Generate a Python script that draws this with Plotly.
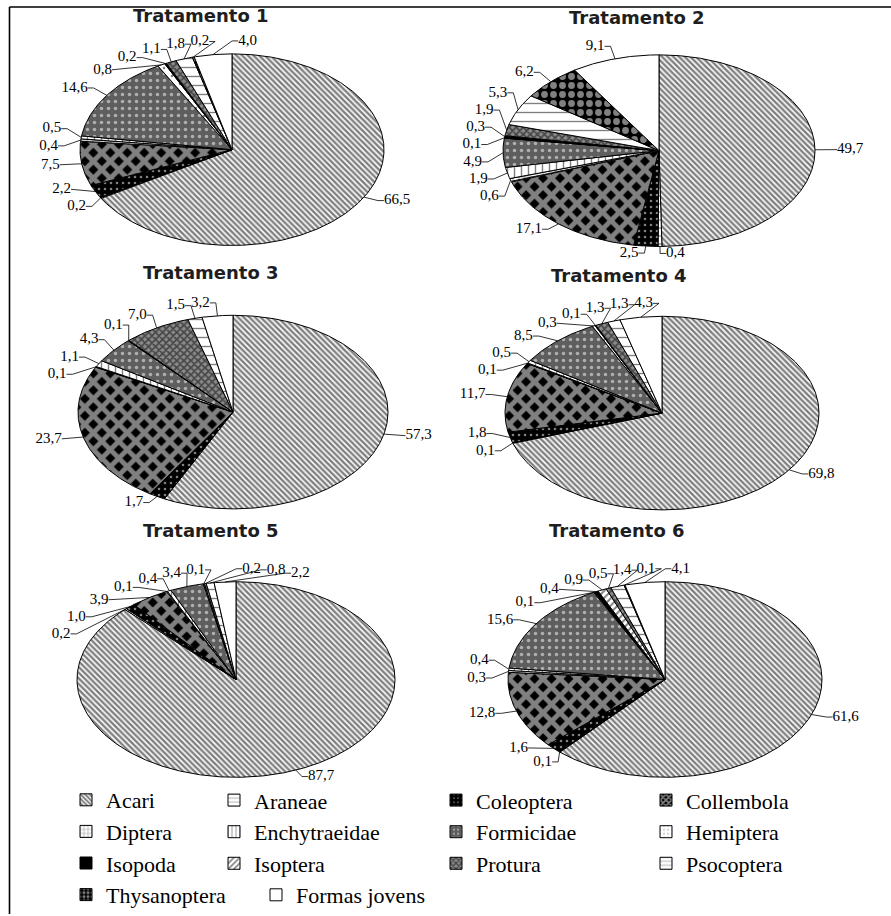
import numpy as np
import plotly.graph_objects as go

# ---------------------------------------------------------------- data
categories = ["Acari", "Araneae", "Coleoptera", "Collembola", "Diptera",
              "Enchytraeidae", "Formicidae", "Hemiptera", "Isopoda", "Isoptera",
              "Protura", "Psocoptera", "Thysanoptera", "Formas jovens"]

treatments = ["Tratamento 1", "Tratamento 2", "Tratamento 3",
              "Tratamento 4", "Tratamento 5", "Tratamento 6"]

# relative abundance (%) per treatment, in category order
trat1 = [66.5, 0.2, 2.2, 7.5, 0.4, 0.5, 14.6, 0.8, 0.2, 0.0, 1.1, 1.8, 0.2, 4.0]
trat2 = [49.7, 0.4, 2.5, 17.1, 0.6, 1.9, 4.9, 0.1, 0.3, 0.0, 1.9, 5.3, 6.2, 9.1]
trat3 = [57.3, 0.0, 1.7, 23.7, 0.1, 1.1, 4.3, 0.1, 0.0, 0.0, 7.0, 1.5, 0.0, 3.2]
trat4 = [69.8, 0.1, 1.8, 11.7, 0.1, 0.5, 8.5, 0.3, 0.1, 0.0, 1.3, 1.3, 0.0, 4.3]
trat5 = [87.7, 0.2, 1.0, 3.9, 0.1, 0.4, 3.4, 0.1, 0.0, 0.0, 0.2, 0.8, 0.0, 2.2]
trat6 = [61.6, 0.1, 1.6, 12.8, 0.3, 0.4, 15.6, 0.1, 0.4, 0.9, 0.5, 1.4, 0.1, 4.1]
values = [trat1, trat2, trat3, trat4, trat5, trat6]

# ---------------------------------------------------------------- layout / style
W, H = 891, 916
# pie centre and half-axes (pixels), title position
pies = [
    dict(cx=232, cy=150, rx=152, ry=96, tx=201, ty=16),
    dict(cx=659, cy=151, rx=156, ry=96, tx=637, ty=18),
    dict(cx=233, cy=413, rx=155, ry=97, tx=211, ty=273),
    dict(cx=662, cy=414, rx=157, ry=97, tx=619, ty=276),
    dict(cx=236, cy=681, rx=159, ry=98, tx=211, ty=532),
    dict(cx=665, cy=681, rx=157, ry=98, tx=617, ty=532),
]

# fill style per category: (solid colour) or (pattern)
styles = {
    "Acari":         dict(shape="\\", fg="black", bg="white", size=4, sol=0.6),
    "Araneae":       dict(shape="-", fg="black", bg="white", size=8, sol=0.15),
    "Coleoptera":    dict(shape=".", fg="white", bg="black", size=6, sol=0.15),
    "Collembola":    dict(shape="x", fg="white", bg="black", size=12, sol=0.65),
    "Diptera":       dict(shape="+", fg="black", bg="white", size=6, sol=0.2),
    "Enchytraeidae": dict(shape="|", fg="black", bg="white", size=7, sol=0.2),
    "Formicidae":    dict(shape=".", fg="white", bg="#5e5e5e", size=7, sol=0.2),
    "Hemiptera":     dict(shape=".", fg="black", bg="white", size=8, sol=0.08),
    "Isopoda":       dict(solid="black"),
    "Isoptera":      dict(shape="/", fg="black", bg="white", size=5, sol=0.4),
    "Protura":       dict(shape="x", fg="black", bg="#8a8a8a", size=5, sol=0.55),
    "Psocoptera":    dict(shape="-", fg="black", bg="white", size=9, sol=0.15),
    "Thysanoptera":  dict(shape=".", fg="white", bg="black", size=9, sol=0.45),
    "Formas jovens": dict(solid="white"),
}

# legend columns: legend id, left pixel, top pixel
legend_of = {
    "Acari": "legend", "Diptera": "legend", "Isopoda": "legend", "Thysanoptera": "legend",
    "Araneae": "legend2", "Enchytraeidae": "legend2", "Isoptera": "legend2",
    "Coleoptera": "legend3", "Formicidae": "legend3", "Protura": "legend3",
    "Collembola": "legend4", "Hemiptera": "legend4", "Psocoptera": "legend4",
    "Formas jovens": "legend5",
}
legend_pos = {"legend": (66, 781), "legend2": (214, 781), "legend3": (436, 781),
              "legend4": (646, 781), "legend5": (256, 876)}

SERIF = "Liberation Serif"
LABEL_FONT = dict(family=SERIF, size=15, color="black")
TAIL = 6


def fmt(v):
    return f"{v:.1f}".replace(".", ",")


def ell(p, ang_deg, dx=0.0, dy=0.0):
    r = np.radians(ang_deg)
    return p["cx"] + (p["rx"] + dx) * np.sin(r), p["cy"] - (p["ry"] + dy) * np.cos(r)


def outer(p, a):
    # label ring: a little closer to the pie below its centre
    dy = 13 if np.cos(np.radians(a)) > 0 else 7
    return ell(p, a, 16, dy)


def text_width(t):
    return sum(3.8 if c == "," else 7.5 for c in t)


def label_box(p, a, t):
    ex, ey = outer(p, a)
    w = text_width(t)
    if np.sin(np.radians(a)) >= 0:
        x0 = ex + TAIL + 1
        x1 = x0 + w
    else:
        x1 = ex - TAIL - 1
        x0 = x1 - w
    return x0, x1, ey - 8.5, ey + 8.5


def overlap(b1, b2):
    return not (b1[1] + 5 < b2[0] or b2[1] + 5 < b1[0] or b1[3] < b2[2] or b2[3] < b1[2])


def spread_labels(p, mids, texts):
    ang = list(mids)
    for _ in range(4000):
        moved = False
        for i in range(len(ang) - 1):
            if overlap(label_box(p, ang[i], texts[i]), label_box(p, ang[i + 1], texts[i + 1])):
                ang[i] -= 0.25
                ang[i + 1] += 0.25
                moved = True
        if not moved:
            break
    return ang


# ---------------------------------------------------------------- wedges
fig = go.Figure()
wedge_x = {c: [] for c in categories}
wedge_y = {c: [] for c in categories}
lead_x, lead_y = [], []
lab_x, lab_y, lab_t, lab_pos = [], [], [], []

for p, vals in zip(pies, values):
    tot = float(sum(vals))
    start = 0.0
    mids, texts = [], []
    for cat, v in zip(categories, vals):
        if v <= 0:
            continue
        span = 360.0 * v / tot
        a = np.linspace(start, start + span, max(3, int(span * 2) + 2))
        ex, ey = ell(p, a)
        wedge_x[cat] += [p["cx"]] + list(ex) + [p["cx"], None]
        wedge_y[cat] += [p["cy"]] + list(ey) + [p["cy"], None]
        mids.append(start + span / 2)
        texts.append(fmt(v))
        start += span

    adj = spread_labels(p, mids, texts)
    for m, a, t in zip(mids, adj, texts):
        ax, ay = ell(p, m)
        ex, ey = outer(p, a)
        side = 1 if np.sin(np.radians(a)) >= 0 else -1
        lead_x += [ax, ex, ex + side * TAIL, None]
        lead_y += [ay, ey, ey, None]
        lab_x.append(ex + side * TAIL)
        lab_y.append(ey)
        lab_t.append(t)
        lab_pos.append("middle right" if side > 0 else "middle left")

for cat in categories:
    st = styles[cat]
    kw = dict(x=wedge_x[cat], y=wedge_y[cat], mode="lines", fill="toself",
              line=dict(color="black", width=1), name=cat, legendgroup=cat,
              showlegend=False, hoverinfo="skip")
    if "solid" in st:
        kw["fillcolor"] = st["solid"]
    else:
        kw["fillcolor"] = st["bg"]
        kw["fillpattern"] = dict(shape=st["shape"], fgcolor=st["fg"], bgcolor=st["bg"],
                                 size=st["size"], solidity=st["sol"])
    fig.add_trace(go.Scatter(**kw))

# leader lines and value labels
fig.add_trace(go.Scatter(x=lead_x, y=lead_y, mode="lines",
                         line=dict(color="black", width=0.8),
                         showlegend=False, hoverinfo="skip"))
fig.add_trace(go.Scatter(x=lab_x, y=lab_y, mode="text", text=lab_t,
                         textposition=lab_pos, textfont=LABEL_FONT,
                         showlegend=False, hoverinfo="skip"))

# legend keys
for cat in categories:
    st = styles[cat]
    if "solid" in st:
        marker = dict(color=st["solid"], line=dict(color="black", width=1))
    else:
        marker = dict(color=st["bg"], line=dict(color="black", width=1),
                      pattern=dict(shape=st["shape"], fgcolor=st["fg"], bgcolor=st["bg"],
                                   size=min(st["size"], 5), solidity=st["sol"]))
    fig.add_trace(go.Bar(x=[None], y=[None], name=cat, legendgroup=cat,
                         marker=marker, legend=legend_of[cat], hoverinfo="skip"))

# titles
for p, name in zip(pies, treatments):
    fig.add_annotation(x=p["tx"], y=p["ty"], text=f"<b>{name}</b>", showarrow=False,
                       font=dict(family="DejaVu Sans", size=18, color="#1e1e1e"),
                       xanchor="center", yanchor="middle")

# frame
fig.add_shape(type="line", x0=9.5, x1=9.5, y0=7, y1=H, line=dict(color="black", width=1.6))
fig.add_shape(type="line", x0=9.5, x1=W, y0=7, y1=7, line=dict(color="black", width=1.6))

legends = {}
for lid, (lx, ly) in legend_pos.items():
    legends[lid] = dict(x=lx / W, y=1 - ly / H, xanchor="left", yanchor="top",
                        orientation="v",
                        font=dict(family=SERIF, size=22, color="black"),
                        bgcolor="rgba(0,0,0,0)", itemwidth=30, tracegroupgap=0,
                        itemclick=False, itemdoubleclick=False)

fig.update_layout(
    width=W, height=H,
    margin=dict(l=0, r=0, t=0, b=0),
    font=dict(family=SERIF, color="black"),
    paper_bgcolor="white", plot_bgcolor="white",
    xaxis=dict(range=[0, W], visible=False, fixedrange=True, type="linear"),
    yaxis=dict(range=[H, 0], visible=False, fixedrange=True, type="linear"),
    showlegend=True,
    **legends,
)

fig.write_html("out.html")
